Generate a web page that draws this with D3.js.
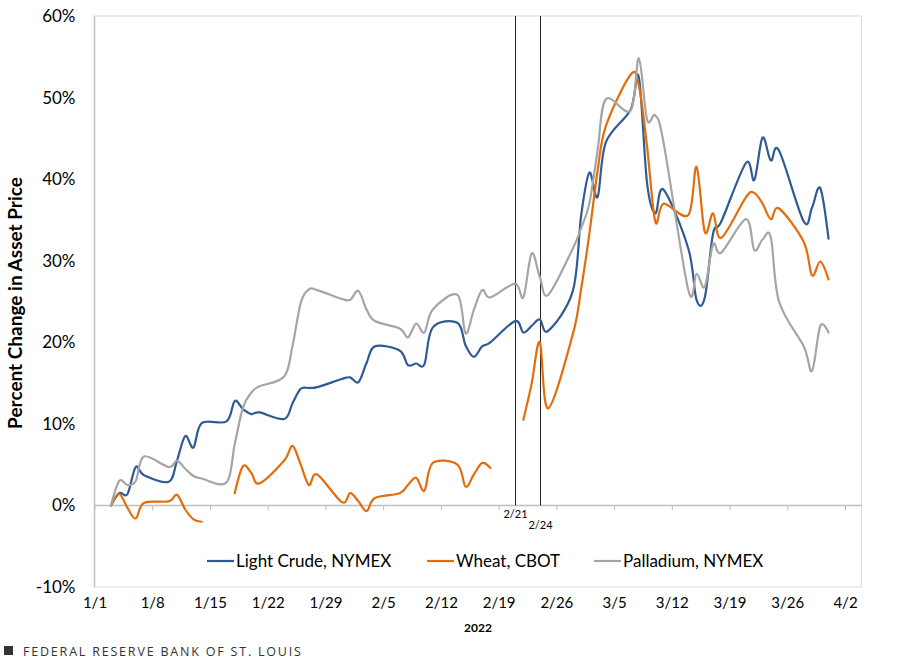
<!DOCTYPE html>
<html>
<head>
<meta charset="utf-8">
<script src="https://cdn.jsdelivr.net/npm/d3@7"></script>
<style>
  html, body { margin: 0; padding: 0; background: #fff; }
  svg { display: block; }
  text { font-family: Lato, "Open Sans", "Liberation Sans", sans-serif; }
</style>
</head>
<body>
<svg id="chart" width="908" height="660"></svg>
<script>
// ---------------- DATA ----------------
const dates = [
  "2022-01-03","2022-01-04","2022-01-05","2022-01-06","2022-01-07",
  "2022-01-10","2022-01-11","2022-01-12","2022-01-13","2022-01-14",
  "2022-01-17","2022-01-18","2022-01-19","2022-01-20","2022-01-21",
  "2022-01-24","2022-01-25","2022-01-26","2022-01-27","2022-01-28",
  "2022-01-31","2022-02-01","2022-02-02","2022-02-03","2022-02-04",
  "2022-02-07","2022-02-08","2022-02-09","2022-02-10","2022-02-11",
  "2022-02-14","2022-02-15","2022-02-16","2022-02-17","2022-02-18",
  "2022-02-21","2022-02-22","2022-02-23","2022-02-24","2022-02-25",
  "2022-02-28","2022-03-01","2022-03-02","2022-03-03","2022-03-04",
  "2022-03-07","2022-03-08","2022-03-09","2022-03-10","2022-03-11",
  "2022-03-14","2022-03-15","2022-03-16","2022-03-17","2022-03-18",
  "2022-03-21","2022-03-22","2022-03-23","2022-03-24","2022-03-25",
  "2022-03-28","2022-03-29","2022-03-30","2022-03-31"
];
const crude = [
  0, 1.5, 1.4, 4.7, 3.7,
  2.9, 5.5, 8.5, 7.1, 10.1,
  10.3, 12.8, 11.8, 11.2, 11.4,
  10.6, 12.5, 14.3, 14.4, 14.5,
  15.5, 15.7, 15.1, 17.5, 19.5,
  19.0, 17.2, 17.4, 17.3, 21.8,
  22.4, 19.6, 18.2, 19.5, 20.0,
  22.6, 21.2, 22.0, 22.8, 21.4,
  26.3, 35.5, 40.8, 37.8, 44.5,
  48.5, 52.5, 39.5, 35.8, 38.7,
  31.5, 25.2, 25.5, 33.3, 34.8,
  42.0, 39.9, 45.1, 42.3, 43.5,
  34.8, 36.5, 38.9, 32.7
];
const wheat = [
  0, 1.4, -0.3, -1.6, 0.3,
  0.5, 1.3, -0.5, -1.7, -2.0,
  null, 1.5, 4.8, 4.0, 2.7,
  5.5, 7.3, 5.0, 2.5, 3.8,
  0.4, 1.5, 0.5, -0.7, 0.9,
  1.5, 2.5, 3.4, 1.8, 5.2,
  5.0, 2.3, 3.8, 5.2, 4.6,
  null, 10.5, 14.9, 20.0, 11.9,
  21.0, 26.5, 33.3, 41.0, 46.5,
  52.8, 51.5, 44.0, 34.8, 37.0,
  35.6, 41.5, 33.5, 35.8, 32.8,
  37.8, 38.3, 37.0, 35.1, 36.4,
  32.3, 28.2, 29.9, 27.7
];
const palladium = [
  0, 3.0, 2.5, 3.0, 6.0,
  4.7, 5.5, 4.5, 3.6, 3.3,
  2.8, 7.5, 12.0, 13.8, 14.6,
  15.8, 19.5, 24.8, 26.5, 26.4,
  25.3, 25.2, 26.3, 24.0, 22.6,
  21.7, 20.6, 22.3, 21.2, 24.0,
  25.8, 21.1, 24.0, 26.4, 25.5,
  27.2, 25.5, 30.9, 28.0, 25.8,
  31.5, 34.0, 37.0, 43.5, 49.8,
  48.4, 54.8, 47.3, 47.8, 44.5,
  26.4, 28.4, 26.8, 32.0, 31.0,
  35.1, 31.3, 32.6, 32.9, 25.0,
  19.5, 16.5, 22.0, 21.2
];
const seriesNames = ["Light Crude, NYMEX", "Wheat, CBOT", "Palladium, NYMEX"];
const seriesColors = ["#2f5b92", "#e46c0a", "#a5a5a5"];
const yTicks = [-10, 0, 10, 20, 30, 40, 50, 60];
const xTickDates = ["2022-01-01","2022-01-08","2022-01-15","2022-01-22","2022-01-29",
  "2022-02-05","2022-02-12","2022-02-19","2022-02-26","2022-03-05","2022-03-12",
  "2022-03-19","2022-03-26","2022-04-02"];
const eventDates = ["2022-02-21", "2022-02-24"];
const eventLabels = ["2/21", "2/24"];

// ---------------- CHART ----------------
const svg = d3.select("#chart");
const parse = d3.utcParse("%Y-%m-%d");
const pLeft = 94.5, pRight = 861.5, pTop = 16, pBottom = 587;

const x = d3.scaleUtc()
  .domain([parse("2022-01-01"), parse("2022-04-04")])
  .range([pLeft, pRight]);
const y = d3.scaleLinear().domain([-10, 60]).range([pBottom, pTop]);

// plot border
svg.append("rect")
  .attr("x", pLeft).attr("y", pTop)
  .attr("width", pRight - pLeft).attr("height", pBottom - pTop)
  .attr("fill", "none").attr("stroke", "#d9d9d9").attr("stroke-width", 1);

// left axis line
svg.append("line")
  .attr("x1", pLeft).attr("x2", pLeft).attr("y1", pTop).attr("y2", pBottom)
  .attr("stroke", "#bfbfbf").attr("stroke-width", 1.5);

// y tick labels
const yAxis = d3.axisLeft(y).tickValues(yTicks).tickSize(0).tickPadding(19)
  .tickFormat(d => d + "%");
const gy = svg.append("g").attr("transform", `translate(${pLeft},0)`).call(yAxis);
gy.select(".domain").remove();
gy.selectAll("text").attr("font-size", 17).attr("fill", "#000")
  .style("font-family", "Lato, 'Open Sans', sans-serif");

// zero line with tick marks
const xAxis = d3.axisBottom(x).tickValues(xTickDates.map(parse)).tickSize(5)
  .tickFormat("");
const gx = svg.append("g").attr("transform", `translate(0,${y(0)})`).call(xAxis);
gx.select(".domain").attr("stroke", "#bfbfbf").attr("stroke-width", 1.5)
  .attr("d", `M${pLeft},0H${pRight}`);
gx.selectAll(".tick line").attr("stroke", "#bfbfbf").attr("stroke-width", 1);

// x tick labels at bottom
const xLab = d3.axisBottom(x).tickValues(xTickDates.map(parse)).tickSize(0)
  .tickPadding(10).tickFormat(d3.utcFormat("%-m/%-d"));
const gxl = svg.append("g").attr("transform", `translate(0,${pBottom})`).call(xLab);
gxl.select(".domain").remove();
gxl.selectAll("text").attr("font-size", 15).attr("fill", "#000")
  .style("font-family", "Lato, 'Open Sans', sans-serif");

// event lines
eventDates.forEach((d, i) => {
  const xx = Math.round(x(parse(d))) + 0.5;
  svg.append("line")
    .attr("x1", xx).attr("x2", xx).attr("y1", pTop).attr("y2", y(0))
    .attr("stroke", "#262626").attr("stroke-width", 1);
  svg.append("text")
    .attr("x", xx).attr("y", y(0) + (i === 0 ? 13 : 24))
    .attr("text-anchor", "middle").attr("font-size", 11).attr("fill", "#000")
    .text(eventLabels[i]);
});

// series lines
const allSeries = [crude, wheat, palladium];
const line = d3.line()
  .defined(d => d.v !== null)
  .x(d => x(d.date))
  .y(d => y(d.v))
  .curve(d3.curveCardinal.tension(0));

allSeries.forEach((vals, i) => {
  const data = dates.map((d, j) => ({ date: parse(d), v: vals[j] }));
  svg.append("path")
    .datum(data)
    .attr("d", line)
    .attr("fill", "none")
    .attr("stroke", seriesColors[i])
    .attr("stroke-width", 2.2)
    .attr("stroke-linejoin", "round")
    .attr("stroke-linecap", "round");
});

// legend
const legendX = [207, 427, 594];
seriesNames.forEach((n, i) => {
  const g = svg.append("g").attr("transform", `translate(${legendX[i]},561)`);
  g.append("line").attr("x1", 0).attr("x2", 27).attr("y1", 0).attr("y2", 0)
    .attr("stroke", seriesColors[i]).attr("stroke-width", 2.2);
  g.append("text").attr("x", 29).attr("y", 6).attr("font-size", 17)
    .attr("fill", "#000").text(n);
});

// axis titles
svg.append("text")
  .attr("transform", "translate(22,303) rotate(-90)")
  .attr("text-anchor", "middle").attr("font-size", 19).attr("font-weight", "bold")
  .attr("fill", "#000").text("Percent Change in Asset Price");

svg.append("text")
  .attr("x", 478).attr("y", 632).attr("text-anchor", "middle")
  .attr("font-size", 12).attr("font-weight", "bold").attr("fill", "#000")
  .text("2022");

// footer
svg.append("rect").attr("x", 4).attr("y", 646).attr("width", 9).attr("height", 9)
  .attr("fill", "#333");
svg.append("text").attr("x", 23).attr("y", 655.5).attr("font-size", 12.5)
  .attr("fill", "#333").attr("letter-spacing", 1.8)
  .style("font-family", "'Open Sans', 'Liberation Sans', sans-serif")
  .text("FEDERAL RESERVE BANK OF ST. LOUIS");
</script>
</body>
</html>
